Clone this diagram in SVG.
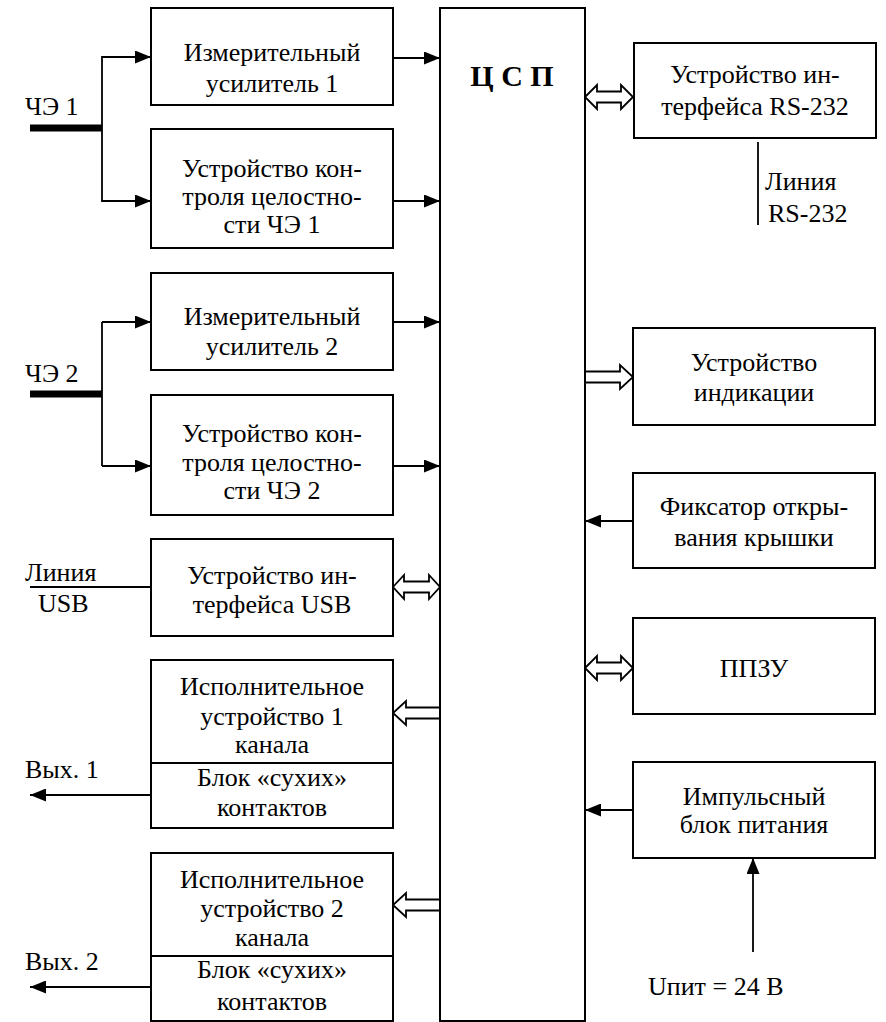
<svg xmlns="http://www.w3.org/2000/svg" width="886" height="1022" viewBox="0 0 886 1022">
<style>
.box{fill:#fff;stroke:#000;stroke-width:2}
.ln{stroke:#000;stroke-width:1.8;fill:none}
.thick{stroke:#000;stroke-width:7;fill:none}
.hollow{fill:#fff;stroke:#000;stroke-width:1.8;stroke-linejoin:miter}
.t{font-family:"Liberation Serif","Times New Roman",serif;font-size:26px;fill:#000}
.c{text-anchor:middle}
.b{font-weight:bold;font-size:30px}
</style>
<defs>
<marker id="ah" viewBox="0 0 16 13" refX="16" refY="6.5" markerWidth="16" markerHeight="13" markerUnits="userSpaceOnUse" orient="auto">
<path d="M0,0 L16,6.5 L0,13 z" fill="#000"/>
</marker>
</defs>
<rect width="886" height="1022" fill="#fff"/>

<g id="connectors">
<line class="thick" x1="30" y1="128" x2="102" y2="128"/>
<polyline class="ln" points="151,57 102,57 102,201 151,201"/>
<line class="ln" x1="102" y1="201" x2="151" y2="201" marker-end="url(#ah)"/>
<line class="ln" x1="102" y1="57" x2="151" y2="57" marker-end="url(#ah)"/>
<line class="thick" x1="30" y1="394" x2="102" y2="394"/>
<polyline class="ln" points="102,322 102,466"/>
<line class="ln" x1="102" y1="322" x2="151" y2="322" marker-end="url(#ah)"/>
<line class="ln" x1="102" y1="466" x2="151" y2="466" marker-end="url(#ah)"/>
<line class="ln" x1="393" y1="58" x2="440" y2="58" marker-end="url(#ah)"/>
<line class="ln" x1="393" y1="201" x2="440" y2="201" marker-end="url(#ah)"/>
<line class="ln" x1="393" y1="322" x2="440" y2="322" marker-end="url(#ah)"/>
<line class="ln" x1="393" y1="466" x2="440" y2="466" marker-end="url(#ah)"/>
<line class="ln" x1="30" y1="587" x2="151" y2="587"/>
<polygon class="hollow" points="393,587 404,575 404,581.5 429,581.5 429,575 440,587 429,599 429,592.5 404,592.5 404,599"/>
<polygon class="hollow" points="440,707.5 406,707.5 406,701 393,713 406,725 406,718.5 440,718.5"/>
<polygon class="hollow" points="440,899.5 406,899.5 406,893 393,905 406,917 406,910.5 440,910.5"/>
<line class="ln" x1="151" y1="795" x2="30" y2="795" marker-end="url(#ah)"/>
<line class="ln" x1="151" y1="987" x2="30" y2="987" marker-end="url(#ah)"/>
<polygon class="hollow" points="585,97 597,85 597,91.5 621,91.5 621,85 633,97 621,109 621,102.5 597,102.5 597,109"/>
<line class="ln" x1="758" y1="142" x2="758" y2="225"/>
<polygon class="hollow" points="585,371.5 620,371.5 620,365 633,377 620,389 620,382.5 585,382.5"/>
<line class="ln" x1="633" y1="521" x2="585" y2="521" marker-end="url(#ah)"/>
<polygon class="hollow" points="585,668 597,656 597,662.5 621,662.5 621,656 633,668 621,680 621,673.5 597,673.5 597,680"/>
<line class="ln" x1="633" y1="810" x2="585" y2="810" marker-end="url(#ah)"/>
<line class="ln" x1="753" y1="952" x2="753" y2="858" marker-end="url(#ah)"/>
</g>

<g id="labels" class="t">
<text x="25" y="115">ЧЭ 1</text>
<text x="25" y="382">ЧЭ 2</text>
<text x="25" y="581">Линия</text>
<text x="38" y="612">USB</text>
<text x="25" y="778">Вых. 1</text>
<text x="25" y="970">Вых. 2</text>
<text x="765" y="190">Линия</text>
<text x="768" y="222">RS-232</text>
<text x="648" y="995">Uпит = 24 В</text>
</g>

<g id="csp" class="t">
<rect class="box" x="440" y="8" width="145" height="1013"/>
<text class="c b" x="512" y="86">Ц С П</text>
</g>

<g id="amp1" class="t">
<rect class="box" x="151" y="8" width="242" height="97"/>
<text class="c" x="272" y="61">Измерительный</text>
<text class="c" x="272" y="92">усилитель 1</text>
</g>

<g id="ctrl1" class="t">
<rect class="box" x="151" y="129" width="242" height="119"/>
<text class="c" x="272" y="177">Устройство кон-</text>
<text class="c" x="272" y="205">троля целостно-</text>
<text class="c" x="272" y="233">сти ЧЭ 1</text>
</g>

<g id="amp2" class="t">
<rect class="box" x="151" y="273" width="242" height="97"/>
<text class="c" x="272" y="325">Измерительный</text>
<text class="c" x="272" y="355">усилитель 2</text>
</g>

<g id="ctrl2" class="t">
<rect class="box" x="151" y="395" width="242" height="120"/>
<text class="c" x="272" y="442">Устройство кон-</text>
<text class="c" x="272" y="471">троля целостно-</text>
<text class="c" x="272" y="499">сти ЧЭ 2</text>
</g>

<g id="usb" class="t">
<rect class="box" x="151" y="539" width="242" height="97"/>
<text class="c" x="272" y="584">Устройство ин-</text>
<text class="c" x="272" y="613">терфейса USB</text>
</g>

<g id="exec1" class="t">
<rect class="box" x="151" y="660" width="242" height="168"/>
<line class="ln" x1="151" y1="763" x2="393" y2="763"/>
<text class="c" x="272" y="695">Исполнительное</text>
<text class="c" x="272" y="725">устройство 1</text>
<text class="c" x="272" y="753">канала</text>
<text class="c" x="272" y="786">Блок «сухих»</text>
<text class="c" x="272" y="816">контактов</text>
</g>

<g id="exec2" class="t">
<rect class="box" x="151" y="853" width="242" height="168"/>
<line class="ln" x1="151" y1="956" x2="393" y2="956"/>
<text class="c" x="272" y="888">Исполнительное</text>
<text class="c" x="272" y="917">устройство 2</text>
<text class="c" x="272" y="946">канала</text>
<text class="c" x="272" y="978">Блок «сухих»</text>
<text class="c" x="272" y="1010">контактов</text>
</g>

<g id="rs232" class="t">
<rect class="box" x="634" y="43" width="242" height="95"/>
<text class="c" x="755" y="83">Устройство ин-</text>
<text class="c" x="755" y="115">терфейса RS-232</text>
</g>

<g id="indication" class="t">
<rect class="box" x="633" y="328" width="242" height="97"/>
<text class="c" x="754" y="371">Устройство</text>
<text class="c" x="754" y="401">индикации</text>
</g>

<g id="lid" class="t">
<rect class="box" x="633" y="473" width="242" height="95"/>
<text class="c" x="754" y="515">Фиксатор откры-</text>
<text class="c" x="754" y="546">вания крышки</text>
</g>

<g id="eeprom" class="t">
<rect class="box" x="633" y="618" width="242" height="96"/>
<text class="c" x="754" y="677">ППЗУ</text>
</g>

<g id="psu" class="t">
<rect class="box" x="633" y="762" width="242" height="96"/>
<text class="c" x="754" y="805">Импульсный</text>
<text class="c" x="754" y="833">блок питания</text>
</g>
</svg>
